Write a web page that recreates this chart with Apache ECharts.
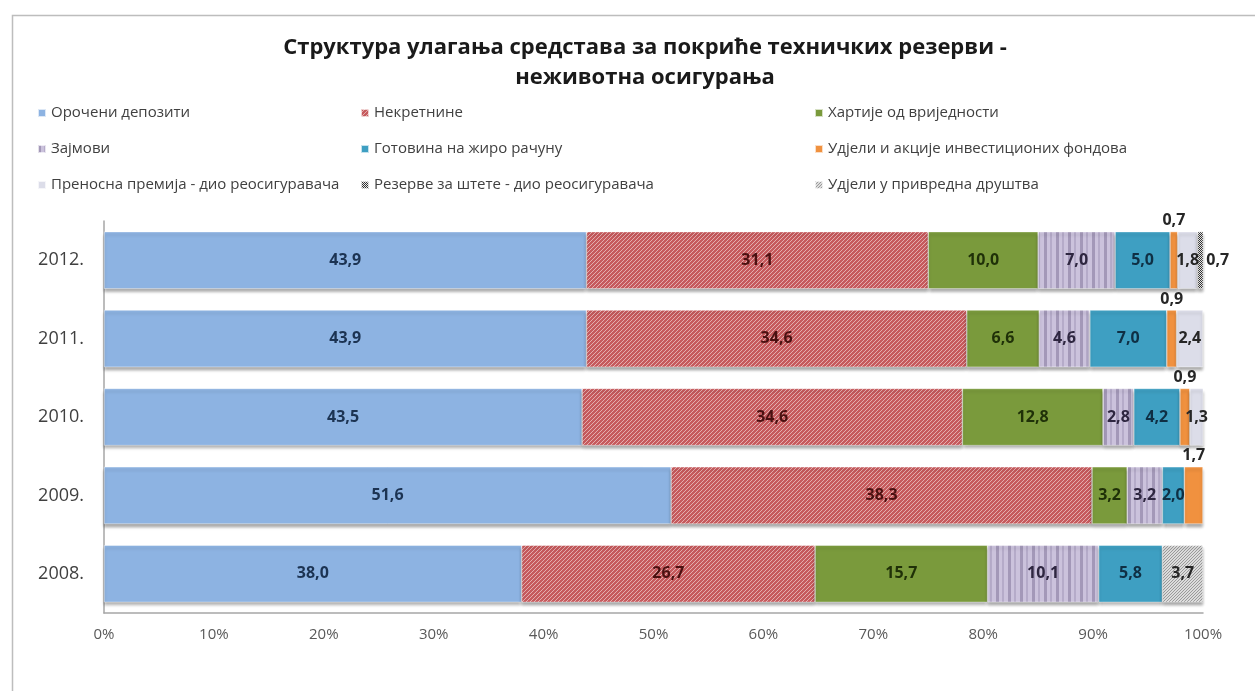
<!DOCTYPE html>
<html>
<head>
<meta charset="utf-8">
<script src="https://cdn.jsdelivr.net/npm/echarts@6/dist/echarts.min.js"></script>
<style>
    html, body { margin: 0; padding: 0; background: #fff; }
    #chart { width: 1255px; height: 691px; }
</style>
</head>
<body>
<div id="chart"></div>
<script>
// категорије (одозго надоле)
const years = ['2012.', '2011.', '2010.', '2009.', '2008.'];
const seriesNames = [
    'Орочени депозити',
    'Некретнине',
    'Хартије од вриједности',
    'Зајмови',
    'Готовина на жиро рачуну',
    'Удјели и акције инвестиционих фондова',
    'Преносна премија - дио реосигуравача',
    'Резерве за штете - дио реосигуравача',
    'Удјели у привредна друштва'
];
// вриједности у % по годинама 2012..2008
const orocheniDepoziti = [43.9, 43.9, 43.5, 51.6, 38.0];
const nekretnine = [31.1, 34.6, 34.6, 38.3, 26.7];
const hartije = [10.0, 6.6, 12.8, 3.2, 15.7];
const zajmovi = [7.0, 4.6, 2.8, 3.2, 10.1];
const gotovina = [5.0, 7.0, 4.2, 2.0, 5.8];
const udjeliFondovi = [0.7, 0.9, 0.9, 1.7, null];
const prenosnaPremija = [1.8, 2.4, 1.3, null, null];
const rezerveSteta = [0.7, null, null, null, null];
const udjeliDrustva = [null, null, null, null, 3.7];
const xTicks = [0, 10, 20, 30, 40, 50, 60, 70, 80, 90, 100];

const allValues = [orocheniDepoziti, nekretnine, hartije, zajmovi, gotovina,
    udjeliFondovi, prenosnaPremija, rezerveSteta, udjeliDrustva];

// шрафуре
function pattern(w, h, draw) {
    const c = document.createElement('canvas');
    c.width = w; c.height = h;
    draw(c.getContext('2d'));
    return { image: c, repeat: 'repeat' };
}
const redHatch = pattern(4, 4, ctx => {
    ctx.fillStyle = '#c65a5d'; ctx.fillRect(0, 0, 4, 4);
    ctx.fillStyle = 'rgba(255,255,255,0.5)';
    for (let i = 0; i < 4; i++) ctx.fillRect(i, 3 - i, 1, 1);
});
const purpleStripes = pattern(12, 4, ctx => {
    ctx.fillStyle = '#cbc2dc'; ctx.fillRect(0, 0, 12, 4);
    ctx.fillStyle = '#a398b8'; ctx.fillRect(0, 0, 3, 4);
    ctx.fillStyle = '#b5abc9'; ctx.fillRect(6, 0, 2, 4);
});
const darkCheck = pattern(2, 2, ctx => {
    ctx.fillStyle = '#e8e8e8'; ctx.fillRect(0, 0, 2, 2);
    ctx.fillStyle = '#333'; ctx.fillRect(0, 0, 1, 1); ctx.fillRect(1, 1, 1, 1);
});
const greyDots = pattern(3, 3, ctx => {
    ctx.fillStyle = '#dcdcdc'; ctx.fillRect(0, 0, 3, 3);
    ctx.fillStyle = '#9a9a9a'; ctx.fillRect(0, 0, 1, 1); ctx.fillRect(1, 2, 1, 1); ctx.fillRect(2, 1, 1, 1);
});

const colors = ['#8db3e2', redHatch, '#7a9a3c', purpleStripes, '#3e9fc2', '#f0913f', '#dcdde9', darkCheck, greyDots];
const labelColors = ['#1c3352', '#4a1010', '#1f3008', '#2e2640', '#0f2f44', '#262626', '#262626', '#262626', '#262626'];

const fmt = v => v.toFixed(1).replace('.', ',');

const series = seriesNames.map((name, i) => ({
    name: name,
    type: 'bar',
    stack: 'total',
    barWidth: '73%',
    itemStyle: {
        color: colors[i],
        borderColor: 'rgba(255,255,255,0.7)',
        borderWidth: 0.6,
        shadowColor: 'rgba(0,0,0,0.35)',
        shadowOffsetY: 3,
        shadowBlur: 3
    },
    label: {
        show: true,
        position: i === 5 ? 'top' : (i === 7 ? 'right' : 'inside'),
        distance: 3,
        color: labelColors[i],
        fontFamily: 'Open Sans',
        fontWeight: 'bold',
        fontSize: 16,
        formatter: p => p.value == null ? '' : fmt(p.value)
    },
    data: allValues[i]
}));

const legendText = { fontFamily: 'Open Sans', fontSize: 15, color: '#404040' };
function legendCol(left, names) {
    return {
        orient: 'vertical', left: left, top: 99,
        itemWidth: 8, itemHeight: 8, itemGap: 18,
        icon: 'rect', selectedMode: false,
        textStyle: Object.assign({ lineHeight: 18 }, legendText),
        data: names
    };
}

const chart = echarts.init(document.getElementById('chart'));
chart.setOption({
    animation: false,
    textStyle: { fontFamily: 'Open Sans' },
    title: {
        text: 'Структура улагања средстава за покриће техничких резерви -\nнеживотна осигурања',
        left: 640, top: 28, textAlign: 'center',
        textStyle: { fontFamily: 'Open Sans', fontWeight: 'bold', fontSize: 22, lineHeight: 30, color: '#1a1a1a' }
    },
    graphic: [{
        type: 'rect', left: 10, top: 13, silent: true,
        shape: { width: 1300, height: 720 },
        style: { fill: 'none', stroke: '#bdbdbd', lineWidth: 1.5 }
    }],
    legend: [
        legendCol(32, [seriesNames[0], seriesNames[3], seriesNames[6]]),
        legendCol(355, [seriesNames[1], seriesNames[4], seriesNames[7]]),
        legendCol(809, [seriesNames[2], seriesNames[5], seriesNames[8]])
    ],
    grid: { left: 104, right: 52, top: 221, height: 392 },
    xAxis: {
        type: 'value', min: 0, max: 100, interval: 10,
        axisLine: { show: true, lineStyle: { color: '#a6a6a6', width: 1.5 } },
        axisTick: { show: false },
        splitLine: { show: false },
        axisLabel: { margin: 14, color: '#595959', fontSize: 15, fontFamily: 'Open Sans',
            formatter: v => xTicks.includes(v) ? v + '%' : '' }
    },
    yAxis: {
        type: 'category', data: years, inverse: true,
        axisLine: { show: true, lineStyle: { color: '#a6a6a6', width: 1.5 } },
        axisTick: { show: false },
        axisLabel: { margin: 20, color: '#404040', fontSize: 18, fontFamily: 'Open Sans' }
    },
    series: series
});
</script>
</body>
</html>
